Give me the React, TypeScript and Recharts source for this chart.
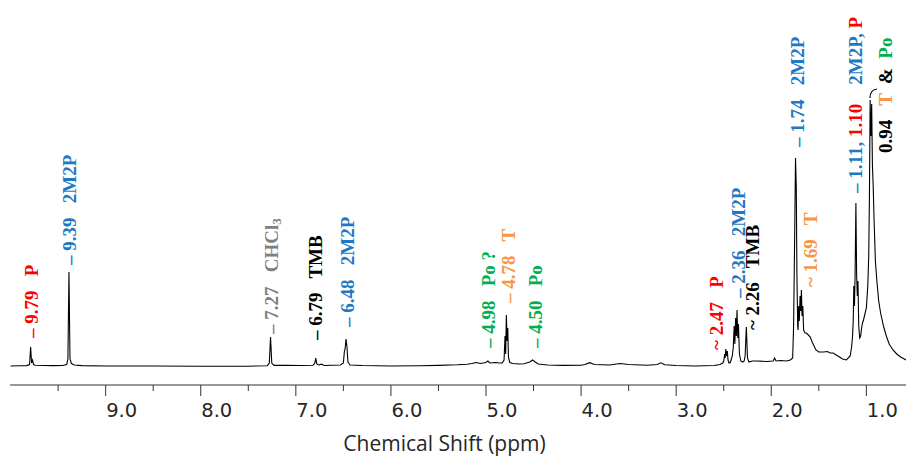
import { Line, LineChart, ReferenceDot, XAxis, YAxis } from "recharts";

// chemical shift (ppm) and signal height, left to right
const shiftPpm = [
  10.0, 9.9, 9.83, 9.8, 9.789, 9.779, 9.769, 9.758, 9.74, 9.65, 9.55, 9.45, 9.41, 9.397, 9.386, 9.375, 9.36, 9.33,
  9.25, 9.0, 8.5, 8.0, 7.5, 7.3, 7.279, 7.266, 7.253, 7.23, 7.1, 6.95, 6.82, 6.801, 6.79, 6.779, 6.76, 6.73, 6.7,
  6.53, 6.5, 6.49, 6.481, 6.472, 6.463, 6.452, 6.43, 6.3, 6.0, 5.7, 5.5, 5.3, 5.2, 5.15, 5.1, 5.06, 5.0, 4.98, 4.96,
  4.9, 4.86, 4.83, 4.81, 4.8, 4.793, 4.786, 4.778, 4.771, 4.764, 4.75, 4.72, 4.65, 4.6, 4.54, 4.51, 4.49, 4.45,
  4.35, 4.2, 4.0, 3.96, 3.91, 3.86, 3.7, 3.59, 3.5, 3.3, 3.2, 3.16, 3.12, 3.0, 2.8, 2.6, 2.54, 2.51, 2.5, 2.49,
  2.485, 2.478, 2.47, 2.462, 2.455, 2.445, 2.43, 2.41, 2.4, 2.39, 2.383, 2.375, 2.367, 2.36, 2.352, 2.345, 2.335,
  2.32, 2.3, 2.285, 2.275, 2.262, 2.25, 2.235, 2.2, 2.15, 2.05, 1.98, 1.965, 1.95, 1.9, 1.84, 1.8, 1.775, 1.765,
  1.755, 1.745, 1.737, 1.73, 1.722, 1.718, 1.712, 1.705, 1.697, 1.69, 1.683, 1.676, 1.668, 1.66, 1.645, 1.63, 1.61,
  1.59, 1.57, 1.55, 1.53, 1.5, 1.45, 1.41, 1.38, 1.35, 1.3, 1.25, 1.21, 1.17, 1.155, 1.145, 1.138, 1.132, 1.125,
  1.118, 1.11, 1.102, 1.095, 1.088, 1.08, 1.07, 1.06, 1.05, 1.04, 1.03, 1.02, 1.0, 0.985, 0.975, 0.968, 0.96,
  0.952, 0.944, 0.936, 0.928, 0.92, 0.905, 0.89, 0.87, 0.85, 0.82, 0.79, 0.76, 0.72, 0.68, 0.64, 0.6, 0.583,
];

const intensity = [
  0, 0.2, 0.4, 1.5, 19, 3, 6, 1.5, 0.8, 0.5, 0.4, 0.5, 1.5, 7, 94, 7, 2.5, 1,
  0.4, 0, 0, -0.3, -0.2, 0.3, 3, 29, 3, 0.6, 0.8, 0.5, 0.8, 2.5, 8, 2, 1, 1.8, 0.5,
  1, 3, 14, 18, 27, 20, 4, 1, 0.5, 0, 0.3, 0.6, 1.2, 1.8, 2.5, 3.5, 2.5, 3.5, 5, 3,
  3.5, 3, 3, 6, 30, 12, 51, 25, 38, 9, 3.5, 2.5, 2, 2.2, 4, 6, 4.5, 2,
  1, 0.6, 0.8, 1.5, 3.3, 1.5, 1, 2.5, 1.5, 0.8, 1.5, 3.2, 1.2, 0.5, 0, 0.5, 1.5, 3, 5, 12,
  8, 17, 10, 15, 6, 3, 3.5, 10, 18, 40, 22, 48, 30, 56, 28, 42, 12,
  5, 4, 5, 10, 39, 8, 4, 5, 5, 4.5, 5, 8, 5, 5.5, 5, 6, 8, 40,
  120, 208, 180, 90, 40, 36, 60, 45, 70, 55, 76, 50, 60, 36, 33, 33, 31,
  29, 24, 20, 16, 14, 14, 14.5, 13, 13, 10, 7, 6, 10, 19, 30, 45, 80, 60,
  93, 163, 90, 70, 85, 40, 28, 30, 38, 43, 46, 50, 58, 80, 110, 166, 266,
  230, 262, 200, 180, 150, 105, 86, 65, 53, 40, 30, 22, 16, 12, 9, 7, 6,
];

const majorTicks = [9, 8, 7, 6, 5, 4, 3, 2, 1];
const minorTicks = [9.5, 8.5, 7.5, 6.5, 5.5, 4.5, 3.5, 2.5, 1.5];

const RED = "#ff0000";
const BLUE = "#1f78c4";
const GRAY = "#7f7f7f";
const BLACK = "#000000";
const ORANGE = "#f79646";
const GREEN = "#00b050";

type Part = { text: string; color: string; sub?: boolean };

interface PeakLabel {
  ppm: number;
  level: number;
  parts: Part[];
}

// rotated peak assignments; ppm/level mark where each label starts
const peakLabels: PeakLabel[] = [
  { ppm: 9.789, level: 28, parts: [{ text: "– 9.79   P", color: RED }] },
  { ppm: 9.386, level: 101, parts: [{ text: "– 9.39   2M2P", color: BLUE }] },
  {
    ppm: 7.256,
    level: 32,
    parts: [
      { text: "– 7.27   CHCl", color: GRAY },
      { text: "3", color: GRAY, sub: true },
    ],
  },
  { ppm: 6.798, level: 26, parts: [{ text: "– 6.79   TMB", color: BLACK }] },
  { ppm: 6.462, level: 39, parts: [{ text: "– 6.48   2M2P", color: BLUE }] },
  { ppm: 4.976, level: 18, parts: [{ text: "– 4.98   Po ?", color: GREEN }] },
  { ppm: 4.766, level: 63, parts: [{ text: "– 4.78   T", color: ORANGE }] },
  { ppm: 4.485, level: 18, parts: [{ text: "– 4.50   Po", color: GREEN }] },
  { ppm: 2.58, level: 16, parts: [{ text: "~ 2.47   P", color: RED }] },
  { ppm: 2.35, level: 68, parts: [{ text: "– 2.36   2M2P", color: BLUE }] },
  { ppm: 2.2, level: 36, parts: [{ text: "~ 2.26   TMB", color: BLACK }] },
  { ppm: 1.732, level: 219, parts: [{ text: "– 1.74   2M2P", color: BLUE }] },
  { ppm: 1.592, level: 79, parts: [{ text: "~ 1.69   T", color: ORANGE }] },
  {
    ppm: 1.119,
    level: 173,
    parts: [
      { text: "– 1.11, ", color: BLUE },
      { text: "1.10", color: RED },
      { text: "    2M2P, ", color: BLUE },
      { text: "P", color: RED },
    ],
  },
  {
    ppm: 0.804,
    level: 213,
    parts: [
      { text: "0.94   ", color: BLACK },
      { text: "T", color: ORANGE },
      { text: "  &  ", color: BLACK },
      { text: "Po", color: GREEN },
    ],
  },
];

const chartData = shiftPpm.map((ppm, index) => ({ ppm, value: intensity[index] }));

const SERIF = "'Liberation Serif', 'Times New Roman', serif";

function PeakLabelMark({ cx, cy, label }: { cx: number; cy: number; label: PeakLabel }) {
  return (
    <text
      x={cx}
      y={cy}
      transform={`rotate(-90 ${cx} ${cy})`}
      dominantBaseline="central"
      fontFamily={SERIF}
      fontWeight="bold"
      fontSize={19}
      style={{ whiteSpace: "pre" }}
    >
      {label.parts.map((part, i) => (
        <tspan key={i} fill={part.color} fontSize={part.sub ? 13 : 19} dy={part.sub ? 5 : 0}>
          {part.text}
        </tspan>
      ))}
    </text>
  );
}

function ShiftTick(props: any) {
  const { x, y, payload } = props;
  const major = Number.isInteger(payload.value);
  return (
    <g>
      <line x1={x} x2={x} y1={y} y2={y + (major ? 11 : 6)} stroke="#333" strokeWidth={1} />
      {major && (
        <text
          x={x + 0.5}
          y={y + 25}
          textAnchor="start"
          dominantBaseline="central"
          fontFamily="'DejaVu Sans', Verdana, sans-serif"
          fontSize={19.5}
          fill="#262626"
        >
          {payload.value.toFixed(1)}
        </text>
      )}
    </g>
  );
}

function AxisTitle(props: any) {
  const { x, y, width } = props.viewBox;
  return (
    <text
      x={x + width / 2 - 13.5}
      y={y + 58}
      textAnchor="middle"
      dominantBaseline="central"
      fontFamily="'Open Sans', sans-serif"
      fontSize={21}
      fill="#262626"
    >
      Chemical Shift (ppm)
    </text>
  );
}

export default function App() {
  return (
    <div style={{ position: "absolute", left: 0, top: 0, width: 906, height: 458, background: "#fff" }}>
      <LineChart width={906} height={458} data={chartData} margin={{ top: 80, right: 0, bottom: 0, left: 10 }}>
        <XAxis
          type="number"
          dataKey="ppm"
          domain={[0.583, 10.006]}
          reversed
          allowDataOverflow
          ticks={[...majorTicks, ...minorTicks]}
          interval={0}
          tickLine={false}
          tickSize={0}
          tickMargin={0}
          tick={(p: any) => <ShiftTick {...p} />}
          axisLine={{ stroke: "#333", strokeWidth: 1 }}
          height={73}
          label={{ content: (p: any) => <AxisTitle {...p} /> }}
        />
        <YAxis hide type="number" domain={[-19, 286]} allowDataOverflow />
        <Line
          dataKey="value"
          type="linear"
          stroke="#000"
          strokeWidth={1.1}
          dot={false}
          isAnimationActive={false}
        />
        {peakLabels.map((label, i) => (
          <ReferenceDot
            key={i}
            x={label.ppm}
            y={label.level}
            r={0}
            ifOverflow="visible"
            shape={(p: any) => <PeakLabelMark cx={p.cx} cy={p.cy} label={label} />}
          />
        ))}
        <ReferenceDot
          x={0.962}
          y={268}
          r={0}
          ifOverflow="visible"
          shape={(p: any) => (
            <path
              d={`M ${p.cx} ${p.cy} Q ${p.cx} ${p.cy - 8} ${p.cx + 7} ${p.cy - 9}`}
              fill="none"
              stroke="#000"
              strokeWidth={1.2}
            />
          )}
        />
      </LineChart>
    </div>
  );
}
